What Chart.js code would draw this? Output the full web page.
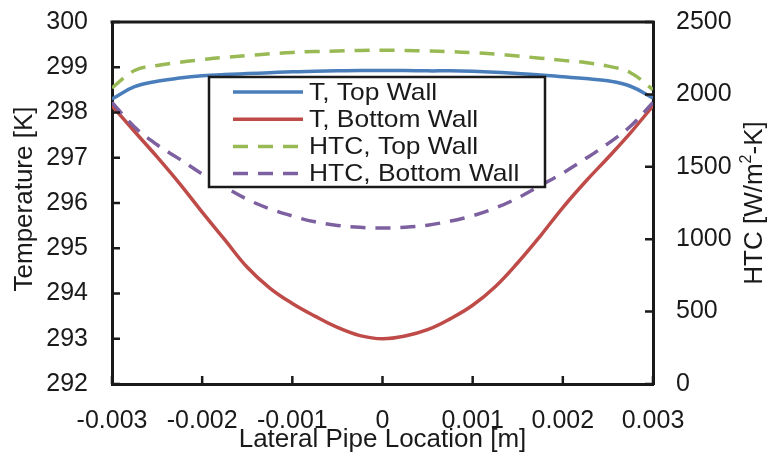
<!DOCTYPE html>
<html>
<head>
<meta charset="utf-8">
<script src="https://cdn.jsdelivr.net/npm/chart.js@4.4.1/dist/chart.umd.min.js"></script>
<style>
  html, body { margin: 0; padding: 0; background: #fff; }
  #wrap { width: 770px; height: 456px; }
</style>
</head>
<body>
<div id="wrap"><canvas id="chart" width="770" height="456"></canvas></div>
<script>
// Lateral location along the pipe [m]
const xs = [-0.003, -0.00275, -0.0025, -0.00225, -0.002, -0.00175, -0.0015, -0.00125, -0.001, -0.00075, -0.0005, -0.00025,
    0, 0.00025, 0.0005, 0.00075, 0.001, 0.00125, 0.0015, 0.00175, 0.002, 0.00225, 0.0025, 0.00275, 0.003];

// Temperatures [K] (left axis)
const tTop = [298.3, 298.57, 298.69, 298.76, 298.81, 298.84, 298.86, 298.88, 298.9, 298.91, 298.92, 298.93,
    298.93, 298.93, 298.92, 298.92, 298.91, 298.89, 298.86, 298.83, 298.79, 298.75, 298.7, 298.58, 298.32];
const tBottom = [298.15, 297.58, 297.02, 296.43, 295.8, 295.19, 294.58, 294.12, 293.78, 293.5, 293.25, 293.07,
    293.0, 293.06, 293.2, 293.44, 293.74, 294.15, 294.68, 295.27, 295.9, 296.47, 297.0, 297.55, 298.15];

// Heat transfer coefficients [W/m2-K] (right axis)
const htcTop = [2045, 2165, 2200, 2222, 2240, 2256, 2268, 2280, 2290, 2296, 2300, 2303,
    2305, 2303, 2300, 2295, 2288, 2278, 2265, 2250, 2235, 2220, 2195, 2150, 2033];
const htcBottom = [1945, 1775, 1652, 1553, 1450, 1360, 1275, 1210, 1160, 1120, 1095, 1082,
    1077, 1082, 1097, 1125, 1162, 1215, 1285, 1370, 1457, 1555, 1660, 1780, 1945];

// Axis ranges / ticks
const xTicks = { min: -0.003, max: 0.003, step: 0.001 };
const tTicks = { min: 292, max: 300, step: 1 };
const htcTicks = { min: 0, max: 2500, step: 500 };

const FONT = '"Liberation Sans", Arial, sans-serif';
const INK = '#1a1a1a';

const toPts = (ys) => xs.map((x, i) => ({ x: x, y: ys[i] }));

const seriesStyle = [
    { label: 'T, Top Wall', data: tTop, axis: 'y', color: '#4a7ebb', dash: [] },
    { label: 'T, Bottom Wall', data: tBottom, axis: 'y', color: '#be4b48', dash: [] },
    { label: 'HTC, Top Wall', data: htcTop, axis: 'y1', color: '#98b954', dash: [15, 10] },
    { label: 'HTC, Bottom Wall', data: htcBottom, axis: 'y1', color: '#7d60a0', dash: [15, 10] }
];

// Frame, inside tick marks, titles and the boxed legend
const decorations = {
    id: 'decorations',
    afterDraw(chart) {
        const ctx = chart.ctx;
        const area = chart.chartArea;
        const sx = chart.scales.x, sy = chart.scales.y, sy1 = chart.scales.y1;

        ctx.save();
        ctx.strokeStyle = INK;
        ctx.lineWidth = 3;
        ctx.beginPath();
        ctx.moveTo(area.left - 1.5, area.top);
        ctx.lineTo(area.right + 1.5, area.top);
        ctx.stroke();

        // tick marks pointing into the plot
        ctx.lineWidth = 2.5;
        ctx.beginPath();
        sy.ticks.forEach(t => {
            const p = sy.getPixelForValue(t.value);
            ctx.moveTo(area.left, p); ctx.lineTo(area.left + 8, p);
        });
        sy1.ticks.forEach(t => {
            const p = sy1.getPixelForValue(t.value);
            ctx.moveTo(area.right, p); ctx.lineTo(area.right - 8, p);
        });
        sx.ticks.forEach(t => {
            const p = sx.getPixelForValue(t.value);
            ctx.moveTo(p, area.bottom); ctx.lineTo(p, area.bottom - 8);
        });
        ctx.stroke();

        // axis titles
        ctx.fillStyle = INK;
        ctx.font = '26px ' + FONT;
        ctx.textAlign = 'center';
        ctx.textBaseline = 'middle';
        ctx.fillText('Lateral Pipe Location [m]', (area.left + area.right) / 2, 440);

        ctx.save();
        ctx.translate(25, 199);
        ctx.rotate(-Math.PI / 2);
        ctx.fillText('Temperature [K]', 0, 0);
        ctx.restore();

        ctx.save();
        ctx.translate(755, 203);
        ctx.rotate(-Math.PI / 2);
        ctx.textAlign = 'left';
        const big = '26px ' + FONT, small = '16px ' + FONT;
        ctx.font = big;
        const w1 = ctx.measureText('HTC [W/m').width;
        const w3 = ctx.measureText('-K]').width;
        ctx.font = small;
        const w2 = ctx.measureText('2').width;
        let x0 = -(w1 + w2 + w3) / 2;
        ctx.font = big;
        ctx.fillText('HTC [W/m', x0, 0);
        ctx.font = small;
        ctx.fillText('2', x0 + w1, -8);
        ctx.font = big;
        ctx.fillText('-K]', x0 + w1 + w2, 0);
        ctx.restore();

        // legend box
        const lx = area.left + 97, ly = area.top + 55, lw = 336, lh = 110;
        ctx.fillStyle = '#fff';
        ctx.fillRect(lx, ly, lw, lh);
        ctx.strokeStyle = INK;
        ctx.lineWidth = 2.5;
        ctx.strokeRect(lx, ly, lw, lh);

        chart.data.datasets.forEach((ds, i) => {
            const rowY = ly + 15 + i * 27.2;
            ctx.save();
            ctx.strokeStyle = ds.borderColor;
            ctx.lineWidth = 3.5;
            ctx.setLineDash(ds.borderDash || []);
            ctx.beginPath();
            ctx.moveTo(lx + 24, rowY);
            ctx.lineTo(lx + 94, rowY);
            ctx.stroke();
            ctx.restore();

            ctx.save();
            ctx.fillStyle = INK;
            ctx.font = '24px ' + FONT;
            ctx.textAlign = 'left';
            ctx.textBaseline = 'middle';
            ctx.translate(lx + 100, rowY + 1);
            ctx.scale(1.1, 1);
            ctx.fillText(ds.label, 0, 0);
            ctx.restore();
        });
        ctx.restore();
    }
};

const tickFont = { family: FONT, size: 25 };

// keep the plot box fixed: no extra padding for overhanging labels
const fixV = (w) => (s) => { s.width = w; s.paddingTop = 0; s.paddingBottom = 0; };
const fixH = (h) => (s) => { s.height = h; s.paddingLeft = 0; s.paddingRight = 0; };

new Chart(document.getElementById('chart'), {
    type: 'line',
    data: {
        datasets: seriesStyle.map((s, i) => ({
            label: s.label,
            data: toPts(s.data),
            yAxisID: s.axis,
            borderColor: s.color,
            backgroundColor: s.color,
            borderWidth: 3.5,
            borderDash: s.dash,
            pointRadius: 0,
            fill: false,
            tension: 0.4,
            order: 4 - i
        }))
    },
    options: {
        responsive: false,
        animation: false,
        layout: { padding: { top: 22, left: 0, right: 0, bottom: 0 } },
        plugins: {
            legend: { display: false },
            tooltip: { enabled: false }
        },
        scales: {
            x: {
                type: 'linear',
                min: xTicks.min,
                max: xTicks.max,
                afterFit: fixH(72),
                grid: { drawOnChartArea: false, drawTicks: false },
                border: { color: INK, width: 3 },
                ticks: {
                    stepSize: xTicks.step,
                    color: INK,
                    font: tickFont,
                    padding: 22,
                    maxRotation: 0,
                    callback: (v) => Math.abs(v) < 1e-12 ? '0' : Number(v).toFixed(3)
                }
            },
            y: {
                position: 'left',
                min: tTicks.min,
                max: tTicks.max,
                afterFit: fixV(112),
                grid: { drawOnChartArea: false, drawTicks: false },
                border: { color: INK, width: 3 },
                ticks: { stepSize: tTicks.step, color: INK, font: tickFont, padding: 24, callback: (v) => String(v) }
            },
            y1: {
                position: 'right',
                min: htcTicks.min,
                max: htcTicks.max,
                afterFit: fixV(117),
                grid: { drawOnChartArea: false, drawTicks: false },
                border: { color: INK, width: 3 },
                ticks: { stepSize: htcTicks.step, color: INK, font: tickFont, padding: 23, callback: (v) => String(v) }
            }
        }
    },
    plugins: [decorations]
});
</script>
</body>
</html>
